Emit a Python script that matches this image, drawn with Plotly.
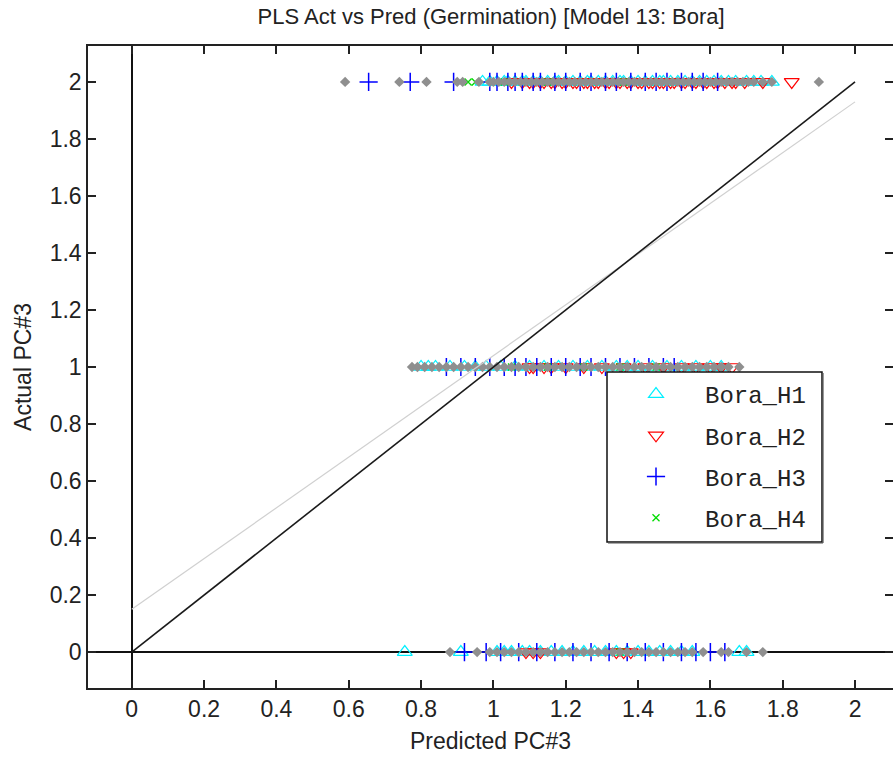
import plotly.graph_objects as go

# ---------------- data (predicted values, grouped by actual class) ----------------
actual_levels = [2, 1, 0]

h1_pred_2 = [0.97, 0.99, 1.01, 1.03, 1.04, 1.06, 1.08, 1.09, 1.11, 1.13, 1.15, 1.17, 1.18, 1.20,
             1.22, 1.24, 1.26, 1.27, 1.29, 1.31, 1.33, 1.35, 1.36, 1.38, 1.40, 1.42, 1.44, 1.46,
             1.47, 1.49, 1.51, 1.53, 1.55, 1.57, 1.59, 1.61, 1.63, 1.65, 1.67, 1.70, 1.72, 1.74,
             1.77]
h1_pred_1 = [0.80, 0.82, 0.84, 0.88, 0.92, 0.95, 0.98, 1.02, 1.06, 1.10, 1.14, 1.18, 1.22, 1.26,
             1.30, 1.34, 1.37, 1.40, 1.44, 1.48, 1.52, 1.56, 1.60, 1.63]
h1_pred_0 = [0.755, 0.91, 1.01, 1.03, 1.05, 1.08, 1.10, 1.13, 1.16, 1.19, 1.22, 1.25, 1.28, 1.31,
             1.34, 1.37, 1.40, 1.43, 1.46, 1.49, 1.52, 1.55, 1.68, 1.70]

h2_pred_2 = [1.05, 1.08, 1.10, 1.11, 1.13, 1.14, 1.16, 1.17, 1.19, 1.20, 1.22, 1.23, 1.25, 1.26,
             1.28, 1.29, 1.31, 1.32, 1.34, 1.35, 1.37, 1.38, 1.40, 1.41, 1.43, 1.44, 1.46, 1.47,
             1.49, 1.50, 1.52, 1.53, 1.55, 1.56, 1.58, 1.59, 1.61, 1.62, 1.64, 1.66, 1.67, 1.695,
             1.745, 1.825]
h2_pred_1 = [1.10, 1.11, 1.14, 1.16, 1.20, 1.25, 1.30, 1.36, 1.42, 1.47, 1.52, 1.56, 1.60, 1.63,
             1.66]
h2_pred_0 = [1.09, 1.11, 1.13, 1.34, 1.36, 1.38]

h3_pred_2 = [0.655, 0.77, 0.89, 0.99, 1.01, 1.04, 1.06, 1.08, 1.11, 1.13, 1.17, 1.20, 1.24, 1.27,
             1.31, 1.34, 1.38, 1.42, 1.45, 1.48, 1.52, 1.55, 1.58, 1.62]
h3_pred_1 = [0.87, 0.91, 0.95, 0.99, 1.03, 1.06, 1.09, 1.12, 1.16, 1.20, 1.24, 1.27, 1.31, 1.35,
             1.39, 1.43, 1.47, 1.50]
h3_pred_0 = [0.92, 0.98, 1.02, 1.07, 1.12, 1.17, 1.22, 1.27, 1.32, 1.37, 1.42, 1.47, 1.52, 1.56,
             1.60, 1.64]

h4_pred_2 = [0.93, 0.95, 1.03, 1.08, 1.15, 1.22, 1.29, 1.36, 1.43, 1.50, 1.55]
h4_pred_1 = [0.96, 1.05, 1.15, 1.25, 1.35, 1.45]
h4_pred_0 = [1.04, 1.20, 1.35, 1.48]

all_pred_2 = [0.59, 0.74, 0.815, 0.90, 0.915, 0.96, 0.99, 1.00, 1.015, 1.03, 1.045, 1.06, 1.075,
              1.09, 1.105, 1.12, 1.135, 1.15, 1.165, 1.18, 1.195, 1.21, 1.225, 1.24, 1.255, 1.27,
              1.285, 1.30, 1.315, 1.33, 1.345, 1.36, 1.375, 1.39, 1.405, 1.42, 1.435, 1.45, 1.465,
              1.48, 1.495, 1.51, 1.525, 1.54, 1.555, 1.57, 1.585, 1.60, 1.615, 1.63, 1.645, 1.66,
              1.675, 1.69, 1.705, 1.72, 1.745, 1.77, 1.90]
all_pred_1 = [0.775, 0.79, 0.81, 0.83, 0.85, 0.87, 0.89, 0.91, 0.93, 0.95, 0.97, 0.99, 1.01, 1.03,
              1.05, 1.07, 1.09, 1.11, 1.13, 1.15, 1.17, 1.19, 1.21, 1.23, 1.25, 1.27, 1.29, 1.31,
              1.33, 1.35, 1.37, 1.39, 1.41, 1.43, 1.45, 1.47, 1.49, 1.51, 1.53, 1.55, 1.57, 1.59,
              1.61, 1.63, 1.65, 1.68]
all_pred_0 = [0.88, 0.955, 0.99, 1.01, 1.03, 1.05, 1.07, 1.09, 1.11, 1.13, 1.15, 1.17, 1.19, 1.21,
              1.23, 1.25, 1.27, 1.29, 1.31, 1.33, 1.35, 1.37, 1.39, 1.41, 1.43, 1.45, 1.47, 1.49,
              1.51, 1.53, 1.55, 1.58, 1.63, 1.65, 1.70, 1.745]

ident_x = [0, 2]
ident_y = [0, 2]
fit_x = [0, 2]
fit_y = [0.15, 1.93]

x_ticks = [0, 0.2, 0.4, 0.6, 0.8, 1, 1.2, 1.4, 1.6, 1.8, 2]
y_ticks = [0, 0.2, 0.4, 0.6, 0.8, 1, 1.2, 1.4, 1.6, 1.8, 2]
x_labels = ["0", "0.2", "0.4", "0.6", "0.8", "1", "1.2", "1.4", "1.6", "1.8", "2"]
y_labels = ["0", "0.2", "0.4", "0.6", "0.8", "1", "1.2", "1.4", "1.6", "1.8", "2"]

title_text = "PLS Act vs Pred (Germination) [Model 13: Bora]"
x_title = "Predicted PC#3"
y_title = "Actual PC#3"


def stack(p2, p1, p0):
    xs = list(p2) + list(p1) + list(p0)
    ys = [actual_levels[0]] * len(p2) + [actual_levels[1]] * len(p1) + [actual_levels[2]] * len(p0)
    return xs, ys


series = [
    ("Bora_H1", stack(h1_pred_2, h1_pred_1, h1_pred_0),
     dict(symbol="triangle-up-open", color="#00f0ff", size=13, line=dict(width=1.2))),
    ("Bora_H2", stack(h2_pred_2, h2_pred_1, h2_pred_0),
     dict(symbol="triangle-down-open", color="#ff0000", size=13, line=dict(width=1.2))),
    ("Bora_H3", stack(h3_pred_2, h3_pred_1, h3_pred_0),
     dict(symbol="cross-thin-open", color="#0000ff", size=13, line=dict(width=1.5, color="#0000ff"))),
    ("Bora_H4", stack(h4_pred_2, h4_pred_1, h4_pred_0),
     dict(symbol="x-thin-open", color="#00dd00", size=7, line=dict(width=1.3, color="#00dd00"))),
]

fig = go.Figure()
for name, (xs, ys), mk in series:
    fig.add_trace(go.Scatter(x=xs, y=ys, mode="markers", name=name, marker=mk,
                             legendgroup=name, showlegend=True))

gx, gy = stack(all_pred_2, all_pred_1, all_pred_0)
fig.add_trace(go.Scatter(x=gx, y=gy, mode="markers", showlegend=False,
                         marker=dict(symbol="diamond", color="#8f8f8f", size=8)))

fig.add_trace(go.Scatter(x=fit_x, y=fit_y, mode="lines", showlegend=False,
                         line=dict(color="#d0d0d0", width=1.2)))
fig.add_trace(go.Scatter(x=ident_x, y=ident_y, mode="lines", showlegend=False,
                         line=dict(color="#1a1a1a", width=1.6)))

# right-side mirror ticks (frame edge lies at the window border)
fig.add_trace(go.Scatter(x=[None], y=[None], yaxis="y2", showlegend=False, hoverinfo="skip"))

sans = "Liberation Sans, Arial, sans-serif"
tick_font = dict(family=sans, size=23, color="#222")
label_font = dict(family=sans, size=23, color="#222")

# legend frame drawn as shapes (box + slight shadow)
lg_x0, lg_x1, lg_y0, lg_y1 = 607, 822, 372, 542
W, H, ML, MT, MB = 893, 759, 88, 46, 71
PW, PH = W - ML, H - MT - MB


def px_to_paper_x(px):
    return (px - ML) / PW


def px_to_paper_y(py):
    return (H - MB - py) / PH


shapes = [
    dict(type="rect", xref="paper", yref="paper", layer="above",
         x0=px_to_paper_x(lg_x0), x1=px_to_paper_x(lg_x1),
         y0=px_to_paper_y(lg_y1), y1=px_to_paper_y(lg_y0),
         fillcolor="white", line=dict(color="#111", width=1.5)),
    dict(type="line", xref="paper", yref="paper", layer="above",
         x0=px_to_paper_x(lg_x1 + 1), x1=px_to_paper_x(lg_x1 + 1),
         y0=px_to_paper_y(lg_y1 + 1), y1=px_to_paper_y(lg_y0 + 1),
         line=dict(color="#555", width=1.2)),
    dict(type="line", xref="paper", yref="paper", layer="above",
         x0=px_to_paper_x(lg_x0 + 1), x1=px_to_paper_x(lg_x1 + 1),
         y0=px_to_paper_y(lg_y1 + 1), y1=px_to_paper_y(lg_y1 + 1),
         line=dict(color="#555", width=1.2)),
]

fig.update_layout(
    width=W, height=H,
    margin=dict(l=ML, r=0, t=MT, b=MB),
    paper_bgcolor="white", plot_bgcolor="white",
    title=dict(text=title_text, x=0.55, xanchor="center", y=0.978, yanchor="middle",
               font=dict(family=sans, size=22, color="#222")),
    showlegend=True,
    shapes=shapes,
    legend=dict(x=px_to_paper_x(lg_x0), xanchor="left", y=px_to_paper_y(lg_y0), yanchor="top",
                bgcolor="rgba(0,0,0,0)", borderwidth=0,
                font=dict(family="Courier New, Liberation Mono, monospace", size=24, color="#222"),
                tracegroupgap=7, itemwidth=88),
    xaxis=dict(range=[-0.121, 2.105], tickvals=x_ticks, ticktext=x_labels,
               ticks="inside", ticklen=8, tickwidth=1.5, tickcolor="#222",
               showline=True, linecolor="#222", linewidth=1.5, mirror="ticks",
               showgrid=False, zeroline=True, zerolinecolor="#111", zerolinewidth=1.6,
               tickfont=tick_font,
               title=dict(text=x_title, font=label_font, standoff=12)),
    yaxis=dict(range=[-0.126, 2.126], tickvals=y_ticks, ticktext=y_labels,
               ticks="inside", ticklen=8, tickwidth=1.5, tickcolor="#222",
               showline=True, linecolor="#222", linewidth=1.5, mirror=False,
               showgrid=False, zeroline=True, zerolinecolor="#111", zerolinewidth=1.6,
               tickfont=tick_font,
               title=dict(text=y_title, font=label_font, standoff=12)),
    yaxis2=dict(overlaying="y", matches="y", side="right", tickvals=y_ticks,
                ticks="inside", ticklen=8, tickwidth=1.5, tickcolor="#222",
                showticklabels=False, showline=False, showgrid=False, zeroline=False),
)

fig.write_html("out.html")
